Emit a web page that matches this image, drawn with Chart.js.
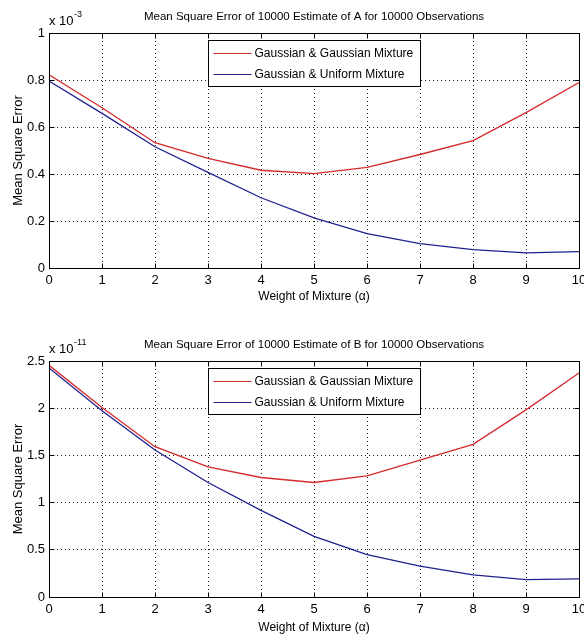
<!DOCTYPE html>
<html>
<head>
<meta charset="utf-8">
<script src="https://cdn.jsdelivr.net/npm/chart.js@4.4.0/dist/chart.umd.min.js"></script>
<style>
  html, body { margin: 0; padding: 0; background: #fff; }
  canvas { display: block; }
</style>
</head>
<body>
<canvas id="chartA" width="584" height="310"></canvas>
<canvas id="chartB" width="584" height="331"></canvas>
<script>
// MSE of estimates A and B vs mixture weight - two MATLAB-style line plots
(function () {
'use strict';

const X_VALUES = [0, 1, 2, 3, 4, 5, 6, 7, 8, 9, 10];
const X_TICKS = [0, 1, 2, 3, 4, 5, 6, 7, 8, 9, 10];
const SERIES_NAMES = ['Gaussian & Gaussian Mixture', 'Gaussian & Uniform Mixture'];

// estimate A, values in units of 1e-3
const A_GAUSS = [0.822, 0.682, 0.533, 0.466, 0.416, 0.402, 0.428, 0.483, 0.542, 0.661, 0.789];
const A_UNIFORM = [0.796, 0.658, 0.516, 0.407, 0.299, 0.213, 0.146, 0.104, 0.078, 0.064, 0.070];
const A_Y_TICKS = [0, 0.2, 0.4, 0.6, 0.8, 1];
const A_Y_LABELS = ['0', '0.2', '0.4', '0.6', '0.8', '1'];

// estimate B, values in units of 1e-11
const B_GAUSS = [2.454, 2.007, 1.592, 1.379, 1.266, 1.213, 1.284, 1.450, 1.617, 1.982, 2.372];
const B_UNIFORM = [2.426, 1.972, 1.557, 1.213, 0.918, 0.642, 0.450, 0.326, 0.234, 0.184, 0.191];
const B_Y_TICKS = [0, 0.5, 1, 1.5, 2, 2.5];
const B_Y_LABELS = ['0', '0.5', '1', '1.5', '2', '2.5'];

const FONT = '"Liberation Sans", Arial, sans-serif';
const RED = '#d42a2a';
const BLUE = '#20208f';

const pix = v => Math.round(v - 0.5) + 0.5;

// title, box, inward ticks, exponent and legend drawn like MATLAB
const matlabAxes = {
    id: 'matlabAxes',
    afterDatasetsDraw(chart, args, opts) {
        const { ctx, chartArea: a, scales: { x, y } } = chart;
        const L = pix(a.left), R = pix(a.right), T = pix(a.top), B = pix(a.bottom);
        ctx.save();
        ctx.strokeStyle = '#000';
        ctx.lineWidth = 1;
        ctx.beginPath();
        ctx.rect(L, T, R - L, B - T);
        x.ticks.forEach(t => {
            const px = pix(x.getPixelForValue(t.value));
            ctx.moveTo(px, B); ctx.lineTo(px, B - 5);
            ctx.moveTo(px, T); ctx.lineTo(px, T + 5);
        });
        y.ticks.forEach(t => {
            const py = pix(y.getPixelForValue(t.value));
            ctx.moveTo(L, py); ctx.lineTo(L + 5, py);
            ctx.moveTo(R, py); ctx.lineTo(R - 5, py);
        });
        ctx.stroke();

        // title centred over the axes
        ctx.fillStyle = '#000';
        ctx.textAlign = 'center';
        ctx.textBaseline = 'middle';
        ctx.font = '11.5px ' + FONT;
        ctx.fillText(opts.title, (a.left + a.right) / 2, a.top - 16);

        // "x 10^exp" above the y axis
        ctx.textBaseline = 'alphabetic';
        ctx.textAlign = 'left';
        ctx.font = '13px ' + FONT;
        const base = a.top - 8;
        ctx.fillText('x 10', a.left, base);
        const w = ctx.measureText('x 10').width;
        ctx.font = '9px ' + FONT;
        ctx.fillText(opts.exp, a.left + w + 0.5, base - 8);

        // legend box, top centre
        ctx.font = '12px ' + FONT;
        const sets = chart.data.datasets;
        const tw = Math.max(...sets.map(d => ctx.measureText(d.label).width));
        const bw = Math.round(46 + tw + 7), bh = 46;
        const bx = pix((a.left + a.right) / 2 - bw / 2), by = pix(a.top + 7);
        ctx.fillStyle = '#fff';
        ctx.fillRect(bx, by, bw, bh);
        ctx.strokeStyle = '#000';
        ctx.strokeRect(bx, by, bw, bh);
        ctx.textBaseline = 'middle';
        sets.forEach((d, i) => {
            const cy = Math.round(by + 12.5 + i * 21.3) + 0.5;
            ctx.strokeStyle = d.borderColor;
            ctx.lineWidth = 1;
            ctx.beginPath();
            ctx.moveTo(bx + 5, cy); ctx.lineTo(bx + 43, cy);
            ctx.stroke();
            ctx.fillStyle = '#000';
            ctx.fillText(d.label, bx + 46, cy + 0.5);
        });
        ctx.restore();
    }
};

function makeChart(id, cfg) {
    const ctx = document.getElementById(id).getContext('2d');
    const toPts = arr => X_VALUES.map((x, i) => ({ x: x, y: arr[i] }));
    return new Chart(ctx, {
        type: 'line',
        data: {
            datasets: [
                { label: SERIES_NAMES[0], data: toPts(cfg.gauss), borderColor: RED, borderWidth: 1.3, pointRadius: 0, tension: 0, fill: false },
                { label: SERIES_NAMES[1], data: toPts(cfg.uniform), borderColor: BLUE, borderWidth: 1.3, pointRadius: 0, tension: 0, fill: false }
            ]
        },
        options: {
            responsive: false,
            animation: false,
            events: [],
            layout: { padding: { left: 0, right: 5, top: cfg.areaTop, bottom: 0 } },
            plugins: {
                legend: { display: false },
                tooltip: { enabled: false },
                title: { display: false },
                matlabAxes: { exp: cfg.exp, title: cfg.title }
            },
            scales: {
                x: {
                    type: 'linear', position: 'bottom', min: 0, max: 10,
                    afterBuildTicks: s => { s.ticks = X_TICKS.map(v => ({ value: v })); },
                    afterFit: s => { s.height = cfg.xAxisH; s.paddingLeft = 0; s.paddingRight = 0; },
                    grid: { color: '#222', lineWidth: 1, drawTicks: false },
                    border: { display: false, dash: [1, 3] },
                    ticks: { color: '#000', padding: 5, maxRotation: 0, autoSkip: false, font: { family: FONT, size: 13 },
                             callback: (v, i) => String(X_TICKS[i]) },
                    title: { display: true, text: 'Weight of Mixture (\u03b1)', color: '#000',
                             font: { family: FONT, size: 12 }, padding: { top: 0, bottom: 6 } }
                },
                y: {
                    type: 'linear', min: 0, max: cfg.yTicks[cfg.yTicks.length - 1],
                    afterBuildTicks: s => { s.ticks = cfg.yTicks.map(v => ({ value: v })); },
                    afterFit: s => { s.width = 49; s.paddingTop = 0; s.paddingBottom = 0; },
                    grid: { color: '#222', lineWidth: 1, drawTicks: false },
                    border: { display: false, dash: [1, 3] },
                    ticks: { color: '#000', padding: 4, font: { family: FONT, size: 13 },
                             callback: (v, i) => cfg.yLabels[i] },
                    title: { display: true, text: 'Mean Square Error', color: '#000',
                             font: { family: FONT, size: 13 }, padding: { top: 11 } }
                }
            }
        },
        plugins: [matlabAxes]
    });
}

function init() {
    makeChart('chartA', {
        title: 'Mean Square Error of 10000 Estimate of A for 10000 Observations',
        gauss: A_GAUSS, uniform: A_UNIFORM, yTicks: A_Y_TICKS, yLabels: A_Y_LABELS,
        exp: '-3', areaTop: 33, xAxisH: 42
    });
    makeChart('chartB', {
        title: 'Mean Square Error of 10000 Estimate of B for 10000 Observations',
        gauss: B_GAUSS, uniform: B_UNIFORM, yTicks: B_Y_TICKS, yLabels: B_Y_LABELS,
        exp: '-11', areaTop: 51, xAxisH: 44
    });
}
if (document.readyState === 'loading') document.addEventListener('DOMContentLoaded', init); else init();
})();
</script>
</body>
</html>
